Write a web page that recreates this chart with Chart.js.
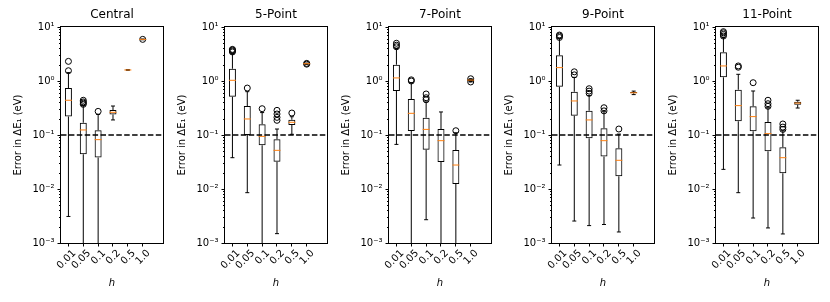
<!DOCTYPE html>
<html>
<head>
<meta charset="utf-8">
<script src="https://cdn.jsdelivr.net/npm/chart.js@4.4.0/dist/chart.umd.min.js"></script>
<style>
  html, body { margin: 0; padding: 0; background: #fff; }
  #wrap { position: relative; width: 830px; height: 302px; overflow: hidden; }
  #wrap canvas { position: absolute; top: 0; }
</style>
</head>
<body>
<div id="wrap"></div>
<script>
// Categories
const methods = ['Central', '5-Point', '7-Point', '9-Point', '11-Point'];
const hLabels = ['0.01', '0.05', '0.1', '0.2', '0.5', '1.0'];
const hPositions = [1, 2, 3, 4, 5, 6];
const yTickValues = [0.001, 0.01, 0.1, 1, 10];
const threshold = 0.1;

// Box statistics, one row per method (values below 1e-3 run off the axis)
const whiskerLow = [
  [0.0031, 0.0002, 0.0002, 0.19, 1.58, 5.8],
  [0.038, 0.00855, 0.0002, 0.00149, 0.103, 2.03],
  [0.067, 0.0002, 0.0027, 0.0002, 0.0002, 0.96],
  [0.0278, 0.00255, 0.0021, 0.0022, 0.0016, 0.56],
  [0.0231, 0.00855, 0.0029, 0.0019, 0.00147, 0.316]
];
const quartile1 = [
  [0.219, 0.0438, 0.0385, 0.24, 1.59, 5.85],
  [0.51, 0.1, 0.0644, 0.032, 0.153, 2.06],
  [0.653, 0.119, 0.0535, 0.0316, 0.0124, 1.0],
  [0.785, 0.228, 0.0868, 0.0398, 0.0172, 0.59],
  [1.17, 0.18, 0.117, 0.0499, 0.0195, 0.365]
];
const medians = [
  [0.44, 0.124, 0.082, 0.263, 1.6, 5.9],
  [1.03, 0.198, 0.0944, 0.052, 0.172, 2.09],
  [1.14, 0.252, 0.127, 0.0785, 0.0278, 1.04],
  [1.77, 0.427, 0.19, 0.0785, 0.034, 0.605],
  [1.9, 0.35, 0.219, 0.106, 0.038, 0.39]
];
const quartile3 = [
  [0.74, 0.169, 0.122, 0.29, 1.61, 5.95],
  [1.69, 0.344, 0.158, 0.083, 0.192, 2.12],
  [2.0, 0.464, 0.209, 0.129, 0.0528, 1.08],
  [2.99, 0.634, 0.282, 0.133, 0.0567, 0.625],
  [3.4, 0.69, 0.34, 0.174, 0.059, 0.415]
];
const whiskerHigh = [
  [1.43, 0.35, 0.24, 0.344, 1.62, 6.0],
  [3.2, 0.634, 0.26, 0.129, 0.218, 2.15],
  [4.0, 0.93, 0.41, 0.267, 0.11, 1.1],
  [6.2, 1.17, 0.54, 0.27, 0.104, 0.65],
  [6.4, 1.33, 0.653, 0.32, 0.12, 0.44]
];
const outliers = [
  [[2.31, 1.55], [0.44, 0.41, 0.39, 0.37], [0.274], [], [], [5.9]],
  [[3.45, 3.6, 3.75, 3.85], [0.74], [0.307], [0.286, 0.245, 0.212, 0.187], [0.255], [2.05, 2.12]],
  [[4.3, 4.6, 5.0], [1.0, 1.05], [0.45, 0.49, 0.575], [], [0.12], [0.96, 1.1]],
  [[6.4, 6.8, 7.1], [1.3, 1.48], [0.59, 0.65, 0.72], [0.28, 0.32], [0.129], []],
  [[6.8, 7.3, 7.8, 8.2], [1.8, 1.9], [0.93], [0.34, 0.38, 0.44], [0.127, 0.14, 0.16], []]
];

// Layout
const Y_MIN = 0.001, Y_MAX = 10;
const X_MIN = 0.5, X_MAX = 0.5 + 103 / 15;
const panelLeft = [0, 164, 328, 491, 655];
const CANVAS_W = 168, CANVAS_H = 302;

Chart.defaults.font.family = "'DejaVu Sans', sans-serif";
Chart.defaults.color = '#000';

const SUP = { '-': '\u207B', '0': '\u2070', '1': '\u00B9', '2': '\u00B2', '3': '\u00B3' };
function powerLabel(v) {
  const e = Math.round(Math.log10(v));
  return '10' + String(e).split('').map(c => SUP[c]).join('');
}

// Frame on all four sides plus log minor ticks
const framePlugin = {
  id: 'frame',
  afterDraw(chart) {
    const { ctx, chartArea: a, scales: { y } } = chart;
    ctx.save();
    ctx.strokeStyle = '#000';
    ctx.lineWidth = 1;
    ctx.beginPath();
    for (let k = -3; k < 1; k++) {
      for (let m = 2; m < 10; m++) {
        const py = Math.round(y.getPixelForValue(m * Math.pow(10, k))) + 0.5;
        ctx.moveTo(a.left - 2, py);
        ctx.lineTo(a.left, py);
      }
    }
    ctx.stroke();
    ctx.strokeRect(Math.round(a.left) - 0.5, Math.round(a.top) - 0.5,
      Math.round(a.right - a.left) + 1, Math.round(a.bottom - a.top) + 1);
    ctx.restore();
  }
};

const pts = arr => hPositions.map((x, j) => ({ x, y: arr[j] }));

function buildPanel(i) {
  const canvas = document.createElement('canvas');
  canvas.width = CANVAS_W;
  canvas.height = CANVAS_H;
  canvas.style.left = panelLeft[i] + 'px';
  document.getElementById('wrap').appendChild(canvas);

  const fliers = [];
  outliers[i].forEach((list, j) => list.forEach(v => fliers.push({ x: hPositions[j], y: v })));

  const caps = [];
  hPositions.forEach((x, j) => {
    [whiskerLow[i][j], whiskerHigh[i][j]].forEach(v => { if (v >= Y_MIN) caps.push({ x, y: v }); });
  });

  new Chart(canvas, {
    type: 'bar',
    data: {
      datasets: [
        {
          type: 'scatter', data: [{ x: X_MIN, y: threshold }, { x: X_MAX, y: threshold }],
          showLine: true, borderColor: '#000', borderWidth: 1.5, borderDash: [5.5, 2.4], pointRadius: 0
        },
        {
          type: 'scatter', data: pts(medians[i]),
          pointStyle: 'line', pointRadius: 3.5, borderColor: '#ff7f0e', borderWidth: 1
        },
        {
          type: 'scatter', data: fliers,
          pointStyle: 'circle', pointRadius: 3, borderColor: '#000', backgroundColor: 'rgba(0,0,0,0)', borderWidth: 1
        },
        {
          type: 'scatter', data: caps,
          pointStyle: 'line', pointRadius: 2, borderColor: '#000', borderWidth: 1
        },
        {
          type: 'bar', data: hPositions.map((x, j) => ({ x, y: [quartile1[i][j], quartile3[i][j]] })),
          barThickness: 7, grouped: false, backgroundColor: 'rgba(0,0,0,0)',
          borderColor: '#000', borderWidth: 1, borderSkipped: false, inflateAmount: 0
        },
        {
          type: 'bar', data: hPositions.map((x, j) => ({ x, y: [quartile3[i][j], whiskerHigh[i][j]] })),
          barThickness: 1, grouped: false, backgroundColor: '#000', borderWidth: 0, inflateAmount: 0
        },
        {
          type: 'bar', data: hPositions.map((x, j) => ({ x, y: [whiskerLow[i][j], quartile1[i][j]] })),
          barThickness: 1, grouped: false, backgroundColor: '#000', borderWidth: 0, inflateAmount: 0
        }
      ]
    },
    options: {
      responsive: false,
      animation: false,
      events: [],
      layout: { padding: { left: 0, right: 4, top: 0, bottom: 0 } },
      plugins: {
        legend: { display: false },
        tooltip: { enabled: false },
        title: {
          display: true, text: methods[i], color: '#000', fullSize: false, align: 'center',
          font: { size: 12, weight: 'normal' }, padding: { top: 8, bottom: 4.6 }
        }
      },
      scales: {
        x: {
          type: 'linear', min: X_MIN, max: X_MAX, offset: false,
          grid: { display: true, drawOnChartArea: false, drawTicks: true, tickLength: 3.5, color: '#000', offset: false },
          border: { display: false },
          afterBuildTicks: s => { s.ticks = hPositions.map(v => ({ value: v })); },
          afterFit: s => { s.height = 59; s.paddingLeft = 0; s.paddingRight = 0; },
          ticks: {
            autoSkip: false, maxRotation: 45, minRotation: 45, padding: 1, labelOffset: 6,
            font: { size: 10 }, color: '#000',
            callback: (v, idx) => hLabels[idx]
          },
          title: { display: true, text: 'h', font: { size: 10, style: 'italic' }, padding: { top: 0, bottom: 13 } }
        },
        y: {
          type: 'logarithmic', min: Y_MIN, max: Y_MAX,
          grid: { display: true, drawOnChartArea: false, drawTicks: true, tickLength: 3.5, color: '#000' },
          border: { display: false },
          afterBuildTicks: s => { s.ticks = yTickValues.map(v => ({ value: v })); },
          afterFit: s => { s.width = 61; s.paddingTop = 0; s.paddingBottom = 0; },
          ticks: { font: { size: 10 }, color: '#000', padding: 3, callback: v => powerLabel(v) },
          title: { display: true, text: 'Error in \u0394E\u2081 (eV)', font: { size: 10 }, padding: { top: 12, bottom: 0 } }
        }
      }
    },
    plugins: [framePlugin]
  });
}

methods.forEach((m, i) => buildPanel(i));
</script>
</body>
</html>
